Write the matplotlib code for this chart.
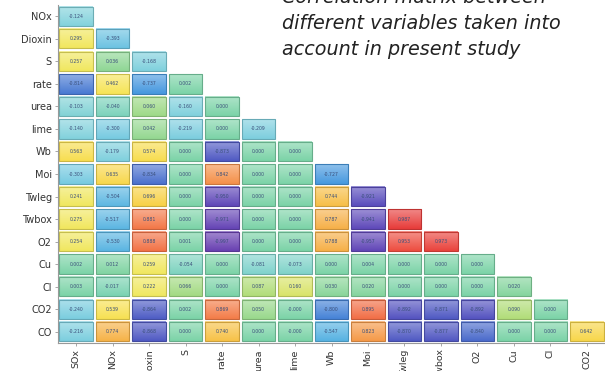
import numpy as np
import matplotlib
matplotlib.use("Agg")
import matplotlib.pyplot as plt
from matplotlib.colors import LinearSegmentedColormap, to_rgb
from matplotlib.patches import Rectangle

row_labels = ["NOx", "Dioxin", "S", "rate", "urea", "lime", "Wb", "Moi",
              "Twleg", "Twbox", "O2", "Cu", "Cl", "CO2", "CO"]
col_labels = ["SOx", "NOx", "Dioxin", "S", "rate", "urea", "lime", "Wb",
              "Moi", "Twleg", "Twbox", "O2", "Cu", "Cl", "CO2"]

r_NOx = [-0.124]
r_Dioxin = [0.295, -0.393]
r_S = [0.257, 0.036, -0.168]
r_rate = [-0.814, 0.462, -0.737, 0.002]
r_urea = [-0.103, -0.040, 0.060, -0.160, 0.000]
r_lime = [-0.140, -0.300, 0.042, -0.219, 0.000, -0.209]
r_Wb = [0.563, -0.179, 0.574, 0.000, -0.873, 0.000, 0.000]
r_Moi = [-0.303, 0.635, -0.834, 0.000, 0.842, 0.000, 0.000, -0.727]
r_Twleg = [0.241, -0.504, 0.696, 0.000, -0.950, 0.000, 0.000, 0.744, -0.921]
r_Twbox = [0.275, -0.517, 0.881, 0.000, -0.971, 0.000, 0.000, 0.787, -0.941, 0.987]
r_O2 = [0.254, -0.530, 0.888, 0.001, -0.997, 0.000, 0.000, 0.788, -0.957, 0.953, 0.973]
r_Cu = [0.002, 0.012, 0.259, -0.054, 0.000, -0.081, -0.073, 0.000, 0.004, 0.000, 0.000, 0.000]
r_Cl = [0.003, -0.017, 0.222, 0.066, 0.000, 0.087, 0.160, 0.030, 0.020, 0.000, 0.000, 0.000, 0.020]
r_CO2 = [-0.240, 0.539, -0.864, 0.002, 0.869, 0.050, -0.000, -0.800, 0.895, -0.892, -0.871, -0.892, 0.090, 0.000]
r_CO = [-0.216, 0.774, -0.868, 0.000, 0.740, 0.000, -0.000, -0.547, 0.823, -0.870, -0.877, -0.840, 0.000, 0.000, 0.642]

rows = [r_NOx, r_Dioxin, r_S, r_rate, r_urea, r_lime, r_Wb, r_Moi,
        r_Twleg, r_Twbox, r_O2, r_Cu, r_Cl, r_CO2, r_CO]

nodes = [(-1.0, '#6a42b2'), (-0.93, '#5c4cbc'), (-0.87, '#505cc4'),
         (-0.78, '#4492de'), (-0.6, '#52aee2'), (-0.35, '#74c8e2'),
         (-0.12, '#84d3dc'), (0.0, '#7ad3aa'), (0.08, '#acdc7c'),
         (0.2, '#efe862'), (0.5, '#f7e456'), (0.7, '#f8d248'),
         (0.8, '#f6ac4a'), (0.87, '#f4804a'), (0.95, '#ee5042'), (1.0, '#e63a3a')]
cmap = LinearSegmentedColormap.from_list(
    "corr", [((v + 1) / 2, c) for v, c in nodes])

fig = plt.figure(figsize=(6.05, 3.71), dpi=100)
ax = fig.add_axes([58 / 605, 1 - 343 / 371, 547 / 605, 338 / 371])

for i, vals in enumerate(rows):
    for j, v in enumerate(vals):
        base = np.array(to_rgb(cmap((v + 1) / 2)))
        edge = base * 0.82
        grad = np.linspace(0, 1, 16)[:, None, None]
        top = base + (1 - base) * 0.38
        img = top * (1 - grad) + base * grad
        ax.imshow(img, extent=(j + 0.04, j + 0.96, i + 0.93, i + 0.07),
                  aspect='auto', interpolation='bilinear', zorder=1)
        ax.add_patch(Rectangle((j + 0.04, i + 0.07), 0.92, 0.86, fill=False,
                               edgecolor=edge, linewidth=0.8, zorder=2))
        ax.text(j + 0.5, i + 0.5, f"{v:.3f}", ha='center', va='center',
                fontsize=3.3, color='#3a4f7a', zorder=3)

ax.set_xlim(0, 15)
ax.set_ylim(15, 0)
ax.set_xticks(np.arange(15) + 0.5)
ax.set_xticklabels(col_labels, rotation=90, fontsize=6.8, color='#333333')
ax.set_yticks(np.arange(15) + 0.5)
ax.set_yticklabels(row_labels, fontsize=7, color='#333333')
for s in ['top', 'right']:
    ax.spines[s].set_visible(False)
for s in ['left', 'bottom']:
    ax.spines[s].set_color('#999999')
    ax.spines[s].set_linewidth(0.8)
ax.tick_params(length=2.5, width=0.6, color='#999999', pad=2)

title_lines = ["Correlation matrix between",
               "different variables taken into",
               "account in present study"]
for k, line in enumerate(title_lines):
    fig.text(282 / 605, 1 - (3 + 26 * k) / 371, line, fontsize=13.8,
             style='italic', family='DejaVu Sans', color='#222222',
             ha='left', va='baseline')

fig.savefig("out.png", dpi=100)
